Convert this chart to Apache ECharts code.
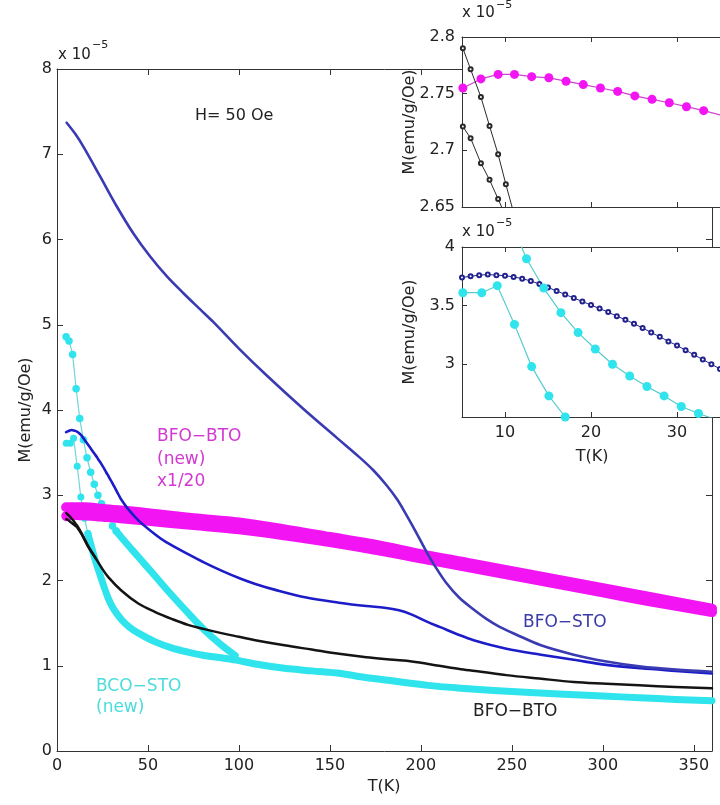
<!DOCTYPE html>
<html><head><meta charset="utf-8">
<script src="https://cdn.jsdelivr.net/npm/echarts@6/dist/echarts.min.js"></script>
<style>html,body{margin:0;padding:0;background:#fff}#c{width:720px;height:805px}</style>
</head><body><div id="c"></div>
<script>
// ---------- data (M in units of 1e-5 emu/g/Oe, T in K) ----------
const xTicksMain = [0, 50, 100, 150, 200, 250, 300, 350];
const yTicksMain = [0, 1, 2, 3, 4, 5, 6, 7, 8];
const xTicksInset = [10, 20, 30];
const yTicksUpper = [2.65, 2.7, 2.75, 2.8];
const yTicksLower = [3, 3.5, 4];

// BFO-STO, upper branch
const bluF_T = [5.3, 10, 14.5, 23.7, 32.8, 42, 51.2, 60.3, 69.5, 78.7, 86, 100, 115, 135, 154, 166, 174, 181, 187, 192, 197, 203, 208, 214, 221, 229, 236, 243, 252, 266, 284, 302, 321, 340, 360];
const bluF = [7.37, 7.24, 7.09, 6.74, 6.39, 6.07, 5.80, 5.57, 5.37, 5.18, 5.03, 4.72, 4.41, 4.02, 3.67, 3.45, 3.29, 3.12, 2.95, 2.77, 2.58, 2.34, 2.16, 1.97, 1.80, 1.66, 1.55, 1.46, 1.37, 1.24, 1.13, 1.05, 0.99, 0.955, 0.93];
// BFO-STO, lower branch
const bluZ_T = [5, 6, 7, 8, 9, 10, 11, 12, 13, 14, 15, 16, 17, 18, 19, 20, 21, 22, 23, 24, 25, 26, 27, 28, 29, 30, 31, 32, 33, 34, 35, 39, 45, 54, 60, 72, 81, 91, 101, 109, 120, 137, 155, 170, 180, 188, 195, 203, 211, 220, 229, 247, 266, 284, 302, 321, 340, 360];
const bluZ = [3.74, 3.75, 3.76, 3.765, 3.76, 3.755, 3.745, 3.73, 3.71, 3.685, 3.655, 3.625, 3.595, 3.565, 3.535, 3.505, 3.475, 3.445, 3.41, 3.38, 3.345, 3.31, 3.27, 3.235, 3.195, 3.16, 3.12, 3.08, 3.04, 3.0, 2.96, 2.84, 2.70, 2.54, 2.45, 2.31, 2.21, 2.11, 2.02, 1.96, 1.89, 1.80, 1.74, 1.70, 1.68, 1.65, 1.60, 1.52, 1.45, 1.37, 1.30, 1.20, 1.13, 1.07, 1.01, 0.97, 0.94, 0.91];
// BFO-BTO (new) x1/20, two branches
const magZ_T = [5.1, 7.2, 9.2, 11.1, 13.1, 15.1, 17.1, 19.1, 21.1, 23.1, 25.1, 27.1, 29.1, 31.1, 33.1, 35.1, 50, 75, 100, 125, 150, 175, 200, 225, 250, 275, 300, 325, 360];
const magZ = [2.755, 2.763, 2.767, 2.767, 2.765, 2.764, 2.761, 2.758, 2.755, 2.752, 2.748, 2.745, 2.742, 2.7385, 2.735, 2.731, 2.70, 2.65, 2.60, 2.53, 2.45, 2.36, 2.26, 2.16, 2.06, 1.96, 1.86, 1.76, 1.63];
const magF_T = [5, 15, 25, 50, 75, 100, 125, 150, 175, 200, 225, 250, 275, 300, 325, 360];
const magF = [2.86, 2.86, 2.84, 2.79, 2.73, 2.68, 2.60, 2.51, 2.42, 2.31, 2.21, 2.11, 2.01, 1.91, 1.81, 1.67];
// BFO-BTO, two branches
const blkF_T = [5.1, 6, 7.2, 8.2, 9.2, 10.1, 11, 13.6, 17, 21, 24.5, 28.2, 35.5, 44.7, 54, 63, 72, 81, 91, 100, 109, 125, 140, 155, 170, 185, 195, 210, 222, 233, 247, 265, 284, 302, 320, 340, 360];
const blkF = [2.79, 2.7715, 2.747, 2.7215, 2.6965, 2.670, 2.645, 2.55, 2.41, 2.27, 2.15, 2.04, 1.88, 1.73, 1.63, 1.55, 1.48, 1.43, 1.38, 1.34, 1.30, 1.24, 1.19, 1.14, 1.10, 1.07, 1.05, 1.00, 0.96, 0.93, 0.89, 0.85, 0.81, 0.79, 0.77, 0.75, 0.735];
const blkZ_T = [5.1, 6, 7.2, 8.2, 9.2, 10.2, 11.2, 13.6, 17, 21];
const blkZ = [2.721, 2.7107, 2.6886, 2.674, 2.657, 2.64, 2.62, 2.54, 2.40, 2.27];
// BCO-STO (new), two branches
const cyA_T = [5, 6.6, 8.6, 10.5, 12.5, 14.5, 16.5, 18.5, 20.5, 22.5, 24.5, 26.5, 28.5, 30.5, 32.5, 36, 45, 54, 63, 72, 81, 90, 98];
const cyA = [4.86, 4.81, 4.65, 4.25, 3.90, 3.65, 3.44, 3.27, 3.13, 3.00, 2.90, 2.81, 2.73, 2.64, 2.58, 2.49, 2.27, 2.05, 1.83, 1.62, 1.42, 1.25, 1.12];
const cyB_T = [5.1, 7.3, 9.1, 11.1, 13.1, 15.1, 17, 19, 21, 23, 25, 28, 31, 35.5, 40, 45, 54, 63, 72, 81, 91, 100, 109, 125, 140, 156, 167, 185, 204, 220, 240, 260, 276, 300, 320, 340, 360];
const cyB = [3.61, 3.61, 3.67, 3.34, 2.98, 2.73, 2.55, 2.39, 2.24, 2.11, 1.98, 1.80, 1.67, 1.54, 1.45, 1.38, 1.28, 1.21, 1.16, 1.12, 1.09, 1.06, 1.02, 0.97, 0.94, 0.91, 0.87, 0.82, 0.77, 0.74, 0.71, 0.685, 0.67, 0.645, 0.625, 0.605, 0.59];

// ---------- helpers ----------
const pairs = (xs, ys) => xs.map((x, i) => [x, ys[i]]);
const upTo = (xs, ys, lim) => pairs(xs, ys).filter(p => p[0] <= lim);
const from = (xs, ys, lim) => pairs(xs, ys).filter(p => p[0] >= lim);

const C_CYAN = '#2fe4ec', C_MAG = '#f214f2', C_BLK = '#141414', C_BLUZ = '#1c1cc8', C_BLUF = '#3a3ab2';
const AX = '#333';
const FONT = 'DejaVu Sans';

function axisBase(extra) {
  return Object.assign({
    type: 'value',
    axisLine: {show: true, onZero: false, lineStyle: {color: AX, width: 1}},
    axisTick: {show: true, inside: true, length: 6, lineStyle: {color: AX}},
    splitLine: {show: false},
    axisLabel: {show: false}
  }, extra);
}
const lbl = (vals, margin) => ({show: true, customValues: vals, margin: margin, fontSize: 16, color: '#222', fontFamily: FONT});

const chart = echarts.init(document.getElementById('c'), null, {renderer: 'canvas'});

const mainLine = (data, color, width, z) => ({
  type: 'line', xAxisIndex: 0, yAxisIndex: 0, data, showSymbol: false, symbol: 'none',
  smooth: 0.35, z,
  lineStyle: {color, width, cap: 'round', join: 'round'}, silent: true, animation: false
});
const dotLine = (data, color, size, lineColor, z, xi, yi) => ({
  type: 'line', xAxisIndex: xi, yAxisIndex: yi, data, symbol: 'circle', symbolSize: size, showSymbol: true,
  z, itemStyle: {color, borderWidth: 0}, lineStyle: {color: lineColor, width: 1.2}, silent: true, animation: false
});
const openLine = (data, color, xi, yi, z) => ({
  type: 'line', xAxisIndex: xi, yAxisIndex: yi, data, symbol: 'emptyCircle', symbolSize: 4, showSymbol: true,
  z, itemStyle: {color, borderColor: color, borderWidth: 1}, lineStyle: {color, width: 1}, silent: true, animation: false
});

const option = {
  animation: false,
  backgroundColor: '#fff',
  textStyle: {fontFamily: FONT},
  grid: [
    {left: 57, top: 69, width: 655, height: 682, containLabel: false},
    {left: 462, top: 37, width: 266, height: 170, show: true, backgroundColor: '#fff', borderWidth: 0, z: 10},
    {left: 462, top: 247, width: 266, height: 170, show: true, backgroundColor: '#fff', borderWidth: 0, z: 10}
  ],
  xAxis: [
    axisBase({gridIndex: 0, min: 0, max: 360, position: 'bottom',
      axisTick: {show: true, inside: true, length: 6, customValues: xTicksMain, lineStyle: {color: AX}},
      axisLabel: lbl(xTicksMain, 7)}),
    axisBase({gridIndex: 0, min: 0, max: 360, position: 'top',
      axisTick: {show: true, inside: true, length: 6, customValues: xTicksMain, lineStyle: {color: AX}}}),
    axisBase({gridIndex: 1, min: 5, max: 35, position: 'bottom', z: 11,
      axisTick: {show: true, inside: true, length: 5, customValues: xTicksInset, lineStyle: {color: AX}}}),
    axisBase({gridIndex: 1, min: 5, max: 35, position: 'top', z: 11,
      axisTick: {show: true, inside: true, length: 5, customValues: xTicksInset, lineStyle: {color: AX}}}),
    axisBase({gridIndex: 2, min: 5, max: 35, position: 'bottom', z: 11,
      axisTick: {show: true, inside: true, length: 5, customValues: xTicksInset, lineStyle: {color: AX}},
      axisLabel: lbl(xTicksInset, 8)}),
    axisBase({gridIndex: 2, min: 5, max: 35, position: 'top', z: 11,
      axisTick: {show: true, inside: true, length: 5, customValues: xTicksInset, lineStyle: {color: AX}}})
  ],
  yAxis: [
    axisBase({gridIndex: 0, min: 0, max: 8, position: 'left',
      axisTick: {show: true, inside: true, length: 6, customValues: yTicksMain, lineStyle: {color: AX}},
      axisLabel: lbl(yTicksMain, 5)}),
    axisBase({gridIndex: 0, min: 0, max: 8, position: 'right',
      axisTick: {show: true, inside: true, length: 6, customValues: yTicksMain, lineStyle: {color: AX}}}),
    axisBase({gridIndex: 1, min: 2.65, max: 2.8, position: 'left', z: 11,
      axisTick: {show: true, inside: true, length: 5, customValues: yTicksUpper, lineStyle: {color: AX}},
      axisLabel: lbl(yTicksUpper, 7)}),
    axisBase({gridIndex: 2, min: 2.55, max: 4, position: 'left', z: 11,
      axisTick: {show: true, inside: true, length: 5, customValues: yTicksLower, lineStyle: {color: AX}},
      axisLabel: lbl(yTicksLower, 7)})
  ],
  series: [
    // main plot
    mainLine(from(cyB_T, cyB, 17), C_CYAN, 7, 2),
    dotLine(upTo(cyB_T, cyB, 17), C_CYAN, 7, '#6fd6d6', 2, 0, 0),
    mainLine(from(cyA_T, cyA, 32.5), C_CYAN, 7, 2),
    dotLine(upTo(cyA_T, cyA, 32.5), C_CYAN, 7.5, '#6fd6d6', 2, 0, 0),
    mainLine(pairs(magZ_T, magZ), C_MAG, 10, 3),
    mainLine(pairs(magF_T, magF), C_MAG, 10, 3),
    mainLine(pairs(blkZ_T, blkZ), C_BLK, 2.5, 4),
    mainLine(pairs(blkF_T, blkF), C_BLK, 2.5, 4),
    mainLine(pairs(bluZ_T, bluZ), C_BLUZ, 2.6, 5),
    mainLine(pairs(bluF_T, bluF), C_BLUF, 2.6, 5),
    // upper inset
    dotLine(pairs(magZ_T, magZ), C_MAG, 9, '#d040d0', 12, 2, 2),
    openLine(pairs(blkF_T, blkF), '#2a2a2a', 2, 2, 12),
    openLine(pairs(blkZ_T, blkZ), '#2a2a2a', 2, 2, 12),
    // lower inset
    openLine(pairs(bluZ_T, bluZ), '#22228e', 4, 3, 12),
    dotLine(pairs(cyA_T, cyA), C_CYAN, 9, '#55cccc', 12, 4, 3),
    dotLine(pairs(cyB_T, cyB), C_CYAN, 9, '#55cccc', 12, 4, 3)
  ],
  graphic: [
    {type: 'text', x: 58, y: 55, z: 20, style: {text: 'x 10', fill: '#222', font: '15px "DejaVu Sans"', verticalAlign: 'middle'}},
    {type: 'text', x: 92, y: 45, z: 20, style: {text: '\u22125', fill: '#222', font: '11px "DejaVu Sans"', verticalAlign: 'middle'}},
    {type: 'text', x: 462, y: 13, z: 20, style: {text: 'x 10', fill: '#222', font: '15px "DejaVu Sans"', verticalAlign: 'middle'}},
    {type: 'text', x: 496, y: 5, z: 20, style: {text: '\u22125', fill: '#222', font: '11px "DejaVu Sans"', verticalAlign: 'middle'}},
    {type: 'text', x: 462, y: 232, z: 20, style: {text: 'x 10', fill: '#222', font: '15px "DejaVu Sans"', verticalAlign: 'middle'}},
    {type: 'text', x: 496, y: 223, z: 20, style: {text: '\u22125', fill: '#222', font: '11px "DejaVu Sans"', verticalAlign: 'middle'}},
    {type: 'text', x: 195, y: 116, z: 20, style: {text: 'H= 50 Oe', fill: '#222', font: '16px "DejaVu Sans"', verticalAlign: 'middle'}},
    {type: 'text', x: 157, y: 437, z: 20, style: {text: 'BFO\u2212BTO', fill: '#d238d2', font: '17px "DejaVu Sans"', verticalAlign: 'middle'}},
    {type: 'text', x: 157, y: 460, z: 20, style: {text: '(new)', fill: '#d238d2', font: '17px "DejaVu Sans"', verticalAlign: 'middle'}},
    {type: 'text', x: 157, y: 482, z: 20, style: {text: 'x1/20', fill: '#d238d2', font: '17px "DejaVu Sans"', verticalAlign: 'middle'}},
    {type: 'text', x: 96, y: 687, z: 20, style: {text: 'BCO\u2212STO', fill: '#4cdcdc', font: '17px "DejaVu Sans"', verticalAlign: 'middle'}},
    {type: 'text', x: 96, y: 708, z: 20, style: {text: '(new)', fill: '#4cdcdc', font: '17px "DejaVu Sans"', verticalAlign: 'middle'}},
    {type: 'text', x: 523, y: 623, z: 20, style: {text: 'BFO\u2212STO', fill: '#3a3aa8', font: '17px "DejaVu Sans"', verticalAlign: 'middle'}},
    {type: 'text', x: 473, y: 712, z: 20, style: {text: 'BFO\u2212BTO', fill: '#222', font: '17px "DejaVu Sans"', verticalAlign: 'middle'}},
    {type: 'text', x: 384, y: 787, z: 20, style: {text: 'T(K)', fill: '#222', font: '16px "DejaVu Sans"', align: 'center', verticalAlign: 'middle'}},
    {type: 'text', x: 592, y: 457, z: 20, style: {text: 'T(K)', fill: '#222', font: '16px "DejaVu Sans"', align: 'center', verticalAlign: 'middle'}},
    {type: 'text', x: 26, y: 410, rotation: Math.PI / 2, z: 20, style: {text: 'M(emu/g/Oe)', fill: '#222', font: '16px "DejaVu Sans"', align: 'center', verticalAlign: 'middle'}},
    {type: 'text', x: 410, y: 122, rotation: Math.PI / 2, z: 20, style: {text: 'M(emu/g/Oe)', fill: '#222', font: '16px "DejaVu Sans"', align: 'center', verticalAlign: 'middle'}},
    {type: 'text', x: 410, y: 332, rotation: Math.PI / 2, z: 20, style: {text: 'M(emu/g/Oe)', fill: '#222', font: '16px "DejaVu Sans"', align: 'center', verticalAlign: 'middle'}}
  ]
};
chart.setOption(option);
</script>
</body></html>
